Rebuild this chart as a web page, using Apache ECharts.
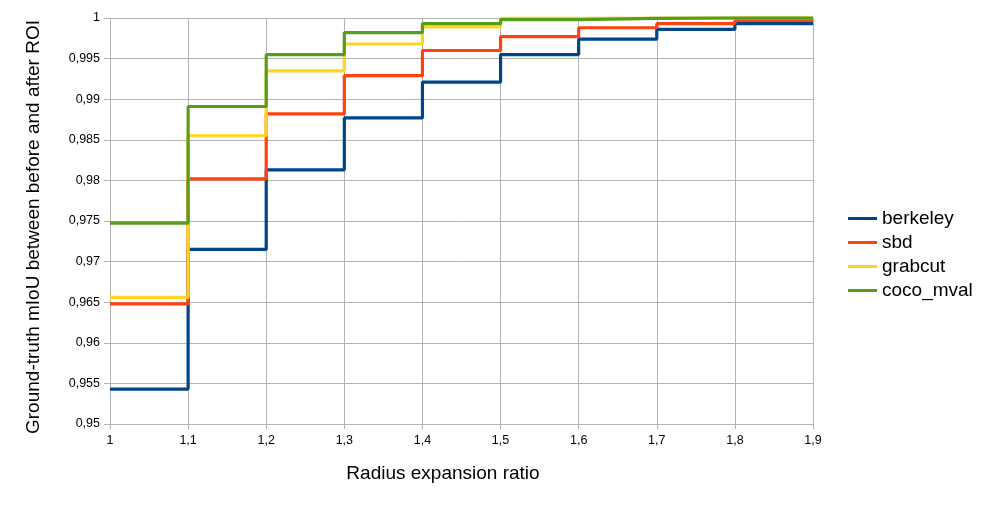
<!DOCTYPE html>
<html>
<head>
<meta charset="utf-8">
<script src="https://cdn.jsdelivr.net/npm/echarts@6/dist/echarts.min.js"></script>
<style>
  html, body { margin: 0; padding: 0; background: #fff; }
  #chart { width: 988px; height: 506px; }
</style>
</head>
<body>
<div id="chart"></div>
<script>
// radius expansion ratios (x)
const ratios = [1, 1.1, 1.2, 1.3, 1.4, 1.5, 1.6, 1.7, 1.8, 1.9];

// mIoU values
const berkeley = [0.9543, 0.9715, 0.9813, 0.9877, 0.9921, 0.9955, 0.9974, 0.9986, 0.9993, 0.9993];
const sbd = [0.9648, 0.9802, 0.9882, 0.9929, 0.9960, 0.9977, 0.9988, 0.9993, 0.9997, 0.9997];
const grabcut = [0.9656, 0.9855, 0.9935, 0.9968, 0.9989, 0.99995, 0.99997, 1, 1, 1];
const cocoMval = [0.97475, 0.9891, 0.9955, 0.9982, 0.9993, 0.9998, 0.99995, 1, 1, 1];

const seriesNames = ["berkeley", "sbd", "grabcut", "coco_mval"];
const seriesValues = [berkeley, sbd, grabcut, cocoMval];
const colors = ["#004586", "#ff420e", "#ffd320", "#579d1c"];

const font = "Liberation Sans";
const grey = "#b3b3b3";

const chart = echarts.init(document.getElementById("chart"), null, { renderer: "canvas" });

const toComma = (v, digits) => String(+v.toFixed(digits)).replace(".", ",");

const option = {
  animation: false,
  color: colors,
  textStyle: { fontFamily: font },
  grid: { left: 110, right: 175, top: 18, bottom: 82, containLabel: false },
  legend: {
    orient: "vertical",
    left: 843,
    top: 204,
    icon: "rect",
    itemWidth: 29,
    itemHeight: 3,
    itemGap: 5,
    textStyle: { fontFamily: font, fontSize: 19, lineHeight: 19, color: "#000" },
    data: seriesNames,
  },
  xAxis: {
    type: "value",
    min: 1,
    max: 1.9,
    interval: 0.1,
    name: "Radius expansion ratio",
    nameLocation: "middle",
    nameGap: 40,
    nameTextStyle: { fontFamily: font, fontSize: 19, color: "#000", padding: [0, 37, 0, 0] },
    axisLine: { show: true, lineStyle: { color: grey, width: 1 } },
    axisTick: { show: true, length: 5, lineStyle: { color: grey } },
    axisLabel: {
      margin: 10,
      fontFamily: font,
      fontSize: 12.5,
      color: "#000",
      formatter: (v) => toComma(v, 1),
    },
    splitLine: { show: true, lineStyle: { color: grey, width: 1 } },
  },
  yAxis: {
    type: "value",
    min: 0.95,
    max: 1,
    interval: 0.005,
    name: "Ground-truth mIoU between before and after ROI",
    nameLocation: "middle",
    nameGap: 67,
    nameTextStyle: { fontFamily: font, fontSize: 19, color: "#000", padding: [0, 12, 0, 0] },
    axisLine: { show: true, lineStyle: { color: grey, width: 1 } },
    axisTick: { show: true, length: 6, lineStyle: { color: grey } },
    axisLabel: {
      margin: 10,
      fontFamily: font,
      fontSize: 12.5,
      color: "#000",
      formatter: (v) => toComma(v, 3),
    },
    splitLine: { show: true, lineStyle: { color: grey, width: 1 } },
  },
  series: seriesNames.map((name, i) => ({
    name: name,
    type: "line",
    step: "end",
    symbol: "none",
    clip: false,
    lineStyle: { width: 3.2, color: colors[i] },
    data: ratios.map((r, j) => [r, seriesValues[i][j]]),
  })),
};

chart.setOption(option);
</script>
</body>
</html>
